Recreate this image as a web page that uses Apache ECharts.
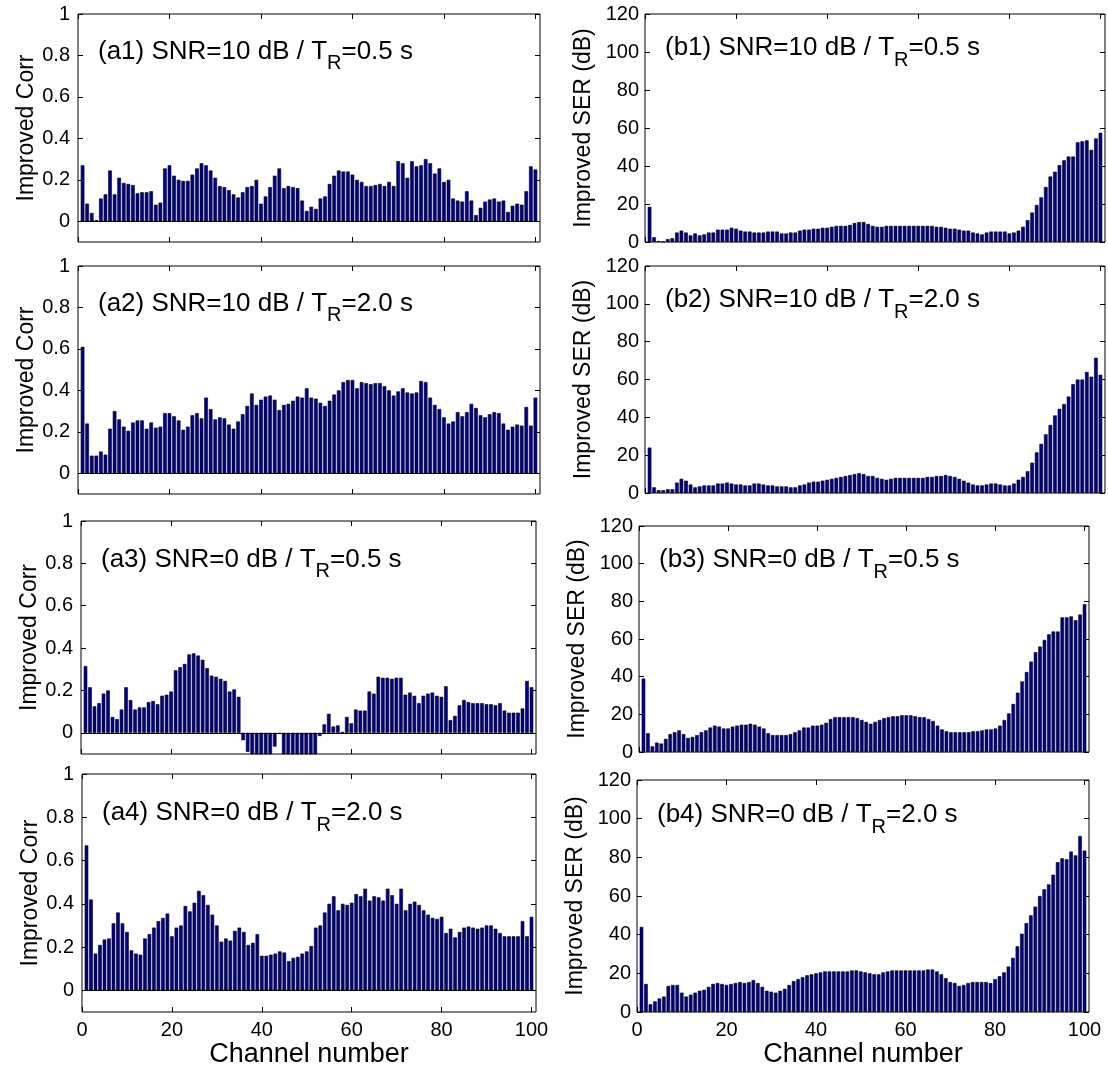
<!DOCTYPE html>
<html>
<head>
<meta charset="utf-8">
<script src="https://cdn.jsdelivr.net/npm/echarts@6/dist/echarts.min.js"></script>
<style>
  html, body { margin: 0; padding: 0; background: #fff; }
  #main { width: 1108px; height: 1070px; }
</style>
</head>
<body>
<div id="main"></div>
<script>
// channel numbers 1..100
const channels = [];
for (let i = 1; i <= 100; i++) channels.push(i);

const channelTicks = [0, 20, 40, 60, 80, 100];
const corrTicks = [0, 0.2, 0.4, 0.6, 0.8, 1];
const serTicks = [0, 20, 40, 60, 80, 100, 120];

// Improved Corr, left column
const corrA1 = [
  0.27, 0.085, 0.04, 0.005, 0.11, 0.13, 0.245, 0.13, 0.21, 0.185,
  0.18, 0.175, 0.135, 0.14, 0.14, 0.145, 0.08, 0.09, 0.255, 0.27,
  0.22, 0.20, 0.195, 0.195, 0.225, 0.255, 0.28, 0.27, 0.245, 0.21,
  0.17, 0.165, 0.15, 0.13, 0.115, 0.14, 0.165, 0.17, 0.20, 0.085,
  0.12, 0.165, 0.22, 0.255, 0.16, 0.17, 0.165, 0.16, 0.10, 0.05,
  0.07, 0.06, 0.11, 0.12, 0.18, 0.22, 0.245, 0.24, 0.24, 0.225,
  0.20, 0.19, 0.17, 0.17, 0.175, 0.18, 0.17, 0.19, 0.17, 0.29,
  0.28, 0.21, 0.29, 0.265, 0.27, 0.30, 0.28, 0.23, 0.255, 0.19,
  0.20, 0.11, 0.10, 0.095, 0.145, 0.10, 0.03, 0.065, 0.095, 0.105,
  0.11, 0.095, 0.10, 0.045, 0.075, 0.085, 0.08, 0.145, 0.265, 0.25
];
const corrA2 = [
  0.61, 0.24, 0.085, 0.085, 0.105, 0.09, 0.215, 0.30, 0.26, 0.225,
  0.205, 0.245, 0.255, 0.255, 0.215, 0.245, 0.22, 0.225, 0.29, 0.29,
  0.275, 0.255, 0.21, 0.225, 0.28, 0.29, 0.265, 0.365, 0.31, 0.26,
  0.27, 0.265, 0.235, 0.215, 0.25, 0.285, 0.325, 0.385, 0.33, 0.355,
  0.37, 0.375, 0.355, 0.305, 0.33, 0.335, 0.35, 0.37, 0.365, 0.41,
  0.365, 0.36, 0.34, 0.325, 0.35, 0.38, 0.40, 0.44, 0.45, 0.45,
  0.41, 0.44, 0.435, 0.43, 0.435, 0.435, 0.42, 0.40, 0.375, 0.395,
  0.41, 0.39, 0.385, 0.39, 0.445, 0.44, 0.365, 0.33, 0.31, 0.27,
  0.24, 0.25, 0.295, 0.275, 0.295, 0.335, 0.315, 0.28, 0.27, 0.285,
  0.295, 0.29, 0.24, 0.21, 0.225, 0.235, 0.23, 0.32, 0.23, 0.365
];
const corrA3 = [
  0.315, 0.215, 0.125, 0.14, 0.185, 0.20, 0.075, 0.065, 0.11, 0.215,
  0.155, 0.11, 0.12, 0.12, 0.145, 0.15, 0.135, 0.175, 0.18, 0.195,
  0.295, 0.31, 0.325, 0.37, 0.375, 0.365, 0.345, 0.305, 0.27, 0.265,
  0.255, 0.245, 0.195, 0.205, 0.17, -0.035, -0.09, -0.15, -0.15, -0.15,
  -0.15, -0.15, -0.065, -0.005, -0.15, -0.15, -0.15, -0.15, -0.15, -0.15,
  -0.15, -0.15, -0.015, 0.04, 0.09, 0.03, 0.035, 0.005, 0.075, 0.045,
  0.11, 0.105, 0.105, 0.195, 0.185, 0.265, 0.26, 0.26, 0.255, 0.26,
  0.26, 0.18, 0.19, 0.175, 0.14, 0.175, 0.185, 0.19, 0.175, 0.17,
  0.22, 0.06, 0.08, 0.13, 0.155, 0.145, 0.14, 0.14, 0.14, 0.135,
  0.135, 0.13, 0.14, 0.105, 0.095, 0.095, 0.095, 0.115, 0.245, 0.215
];
const corrA4 = [
  0.67, 0.42, 0.17, 0.21, 0.235, 0.24, 0.31, 0.36, 0.31, 0.27,
  0.185, 0.17, 0.165, 0.24, 0.26, 0.29, 0.32, 0.335, 0.355, 0.25,
  0.29, 0.30, 0.39, 0.365, 0.405, 0.46, 0.44, 0.395, 0.35, 0.30,
  0.225, 0.24, 0.23, 0.275, 0.29, 0.27, 0.21, 0.22, 0.26, 0.16,
  0.16, 0.165, 0.17, 0.18, 0.175, 0.135, 0.15, 0.155, 0.17, 0.18,
  0.205, 0.29, 0.30, 0.36, 0.40, 0.435, 0.37, 0.40, 0.395, 0.405,
  0.445, 0.435, 0.47, 0.415, 0.435, 0.43, 0.415, 0.47, 0.44, 0.40,
  0.47, 0.37, 0.40, 0.41, 0.395, 0.37, 0.35, 0.335, 0.33, 0.34,
  0.265, 0.285, 0.245, 0.27, 0.29, 0.295, 0.29, 0.285, 0.29, 0.30,
  0.30, 0.285, 0.265, 0.25, 0.25, 0.25, 0.25, 0.32, 0.25, 0.34
];

// Improved SER (dB), right column
const serB1 = [
  18.5, 2.5, 0.5, 0, 1.5, 2, 5, 6, 5, 3.5,
  4.5, 3.5, 4, 5, 5, 6.5, 6.5, 6.5, 7.5, 7,
  6, 5.5, 5.5, 5, 5, 5, 5.5, 5.5, 5.5, 4.5,
  4.5, 5, 5, 6, 6.5, 6.5, 7, 7, 7.5, 7.5,
  8, 8.5, 8.5, 8.5, 9, 10, 10.5, 10.5, 9.5, 8.5,
  8, 8, 8.5, 8.5, 8.5, 8.5, 8.5, 8.5, 8.5, 8.5,
  8.5, 8.5, 8.5, 8, 8, 7.5, 7, 7, 6.5, 6,
  6, 5, 4.5, 4, 5, 5.5, 5.5, 5.5, 5.5, 4.5,
  5, 6, 8, 11.5, 15.5, 19.5, 23.5, 29, 34.5, 37,
  40.5, 43, 45, 45, 52.5, 53, 53.5, 48.5, 54.5, 57.5
];
const serB2 = [
  24, 3, 1.5, 1.5, 2, 2, 5.5, 7.5, 6.5, 4.5,
  3, 3.5, 4, 4, 4, 5, 5, 5.5, 5, 4.5,
  4.5, 4, 4, 5, 5, 4.5, 4, 4, 3.5, 3.5,
  3.5, 3, 3, 4, 4.5, 5.5, 6, 6, 6.5, 7,
  7.5, 8, 8.5, 9, 9.5, 10, 10.5, 10, 9, 9,
  8, 7.5, 7, 7.5, 8, 8, 8, 8, 8, 8,
  8, 8.5, 8.5, 9, 9, 9.5, 9, 8.5, 7.5, 6.5,
  5.5, 4.5, 4, 4, 4.5, 5, 5, 4.5, 4, 4,
  5, 7, 8.5, 11.5, 16, 21.5, 26, 31, 36, 41,
  44.5, 47, 51, 57.5, 60, 60, 64, 61.5, 71.5, 62.5
];
const serB3 = [
  39, 10, 3, 5, 4.5, 7, 9.5, 10.5, 11.5, 9.5,
  7.5, 8, 9, 10.5, 11.5, 13, 14, 13.5, 12.5, 12.5,
  13.5, 14, 14.5, 14.5, 15, 14.5, 13.5, 12.5, 10, 9,
  9, 9, 9, 9.5, 10.5, 11.5, 13, 13, 14, 14,
  14.5, 15.5, 17.5, 18.5, 18.5, 18.5, 18.5, 18.5, 18, 17,
  16, 15, 16, 17, 18, 18.5, 19, 19, 19.5, 19.5,
  19.5, 19, 18.5, 18.5, 17.5, 16.5, 14, 12, 11, 10.5,
  10.5, 10.5, 10.5, 10.5, 11, 11, 11.5, 12, 12, 12.5,
  14, 17, 20.5, 25.5, 31.5, 37.5, 42.5, 48, 53, 56,
  59.5, 62.5, 64, 64, 71.5, 71.5, 72, 70, 73, 78.5
];
const serB4 = [
  44, 14.5, 4, 5.5, 7, 8, 13.5, 14, 14, 10,
  8, 9, 10, 11, 11.5, 13, 14.5, 15, 14.5, 14,
  14.5, 15, 15.5, 15, 15.5, 16.5, 15, 13, 11, 10.5,
  10, 11, 12, 14, 16, 17, 18, 19, 19.5, 20,
  20.5, 21, 21, 21, 21, 21, 21, 21.5, 21.5, 21,
  20.5, 20, 19.5, 19.5, 20.5, 21, 21.5, 21.5, 21.5, 21.5,
  21.5, 21.5, 21.5, 21.5, 22, 22, 21, 19.5, 17.5, 15.5,
  15, 13.5, 14, 15, 15.5, 15.5, 15.5, 15.5, 15, 17,
  18.5, 20.5, 23.5, 28, 34, 40.5, 46, 50, 54.5, 60,
  63.5, 66, 71, 77.5, 79.5, 79, 83, 81, 91, 83.5
];

const FONT = '"Liberation Sans", Arial, Helvetica, sans-serif';

const panels = [
  { tag: 'a1', values: corrA1, kind: 'corr', snr: '10', tr: '0.5', box: [78, 14, 462, 228] },
  { tag: 'a2', values: corrA2, kind: 'corr', snr: '10', tr: '2.0', box: [78, 266, 462, 228] },
  { tag: 'a3', values: corrA3, kind: 'corr', snr: '0', tr: '0.5', box: [81, 521, 455, 233] },
  { tag: 'a4', values: corrA4, kind: 'corr', snr: '0', tr: '2.0', box: [82, 774, 454, 238], bottom: true },
  { tag: 'b1', values: serB1, kind: 'ser', snr: '10', tr: '0.5', box: [645, 14, 460, 228] },
  { tag: 'b2', values: serB2, kind: 'ser', snr: '10', tr: '2.0', box: [645, 266, 460, 227] },
  { tag: 'b3', values: serB3, kind: 'ser', snr: '0', tr: '0.5', box: [639, 526, 450, 226] },
  { tag: 'b4', values: serB4, kind: 'ser', snr: '0', tr: '2.0', box: [637, 780, 452, 232], bottom: true }
];

const grids = [], xAxes = [], yAxes = [], series = [], graphics = [];
const tickLen = 5;
const black = { color: '#000', width: 1 };

panels.forEach((p, i) => {
  const [left, top, width, height] = p.box;
  const isCorr = p.kind === 'corr';
  const yMin = isCorr ? -0.1 : 0;
  const yMax = isCorr ? 1 : 120;
  const yTicks = isCorr ? corrTicks : serTicks;

  grids.push({ left, top, width, height, show: true, borderColor: '#000', borderWidth: 1, backgroundColor: 'transparent' });

  // bottom + top x axes (MATLAB box with inward ticks)
  xAxes.push({
    type: 'value', gridIndex: i, min: 0, max: 101, position: 'bottom',
    axisLine: { show: false, onZero: false }, splitLine: { show: false },
    axisTick: { show: true, inside: true, length: tickLen, customValues: channelTicks, lineStyle: black },
    axisLabel: { show: !!p.bottom, customValues: channelTicks, margin: 8, color: '#000', fontSize: 20, fontFamily: FONT },
    name: p.bottom ? 'Channel number' : '', nameLocation: 'middle', nameGap: 29,
    nameTextStyle: { color: '#000', fontSize: 27, fontFamily: FONT }
  });
  xAxes.push({
    type: 'value', gridIndex: i, min: 0, max: 101, position: 'top',
    axisLine: { show: false, onZero: false }, splitLine: { show: false },
    axisTick: { show: true, inside: true, length: tickLen, customValues: channelTicks, lineStyle: black },
    axisLabel: { show: false }
  });

  // left + right y axes
  yAxes.push({
    type: 'value', gridIndex: i, min: yMin, max: yMax, position: 'left',
    axisLine: { show: false, onZero: false }, splitLine: { show: false },
    axisTick: { show: true, inside: true, length: tickLen, customValues: yTicks, lineStyle: black },
    axisLabel: { customValues: yTicks, margin: isCorr ? 8 : 6, color: '#000', fontSize: 20, fontFamily: FONT },
    name: isCorr ? 'Improved Corr' : 'Improved SER (dB)', nameLocation: 'middle', nameRotate: 90,
    nameGap: isCorr ? 37 : 50,
    nameTextStyle: { color: '#000', fontSize: 23, fontFamily: FONT }
  });
  yAxes.push({
    type: 'value', gridIndex: i, min: yMin, max: yMax, position: 'right',
    axisLine: { show: false, onZero: false }, splitLine: { show: false },
    axisTick: { show: true, inside: true, length: tickLen, customValues: yTicks, lineStyle: black },
    axisLabel: { show: false }
  });

  series.push({
    type: 'bar',
    xAxisIndex: 2 * i, yAxisIndex: 2 * i,
    data: p.values.map((v, k) => [channels[k], v]),
    barWidth: width / 101 * 0.8,
    clip: true,
    itemStyle: { color: '#00008f', borderColor: '#000', borderWidth: 0.6 },
    markLine: isCorr ? {
      silent: true, symbol: 'none', animation: false,
      label: { show: false },
      lineStyle: { color: '#000', type: 'solid', width: 1 },
      data: [{ yAxis: 0 }]
    } : undefined
  });

  // panel label, sitting just above the 0.8 / 100 tick level like the original
  const labelVal = isCorr ? 0.8 : 100;
  const labelY = top + (yMax - labelVal) / (yMax - yMin) * height - 4;
  graphics.push({
    type: 'text', x: left + 20, y: labelY, z: 10,
    style: {
      text: '{m|(' + p.tag + ') SNR=' + p.snr + ' dB / T}{s|R}{m|=' + p.tr + ' s}',
      verticalAlign: 'middle', align: 'left',
      rich: {
        m: { fontSize: 26, fontFamily: FONT, fill: '#000' },
        s: { fontSize: 20, fontFamily: FONT, fill: '#000', padding: [25, 0, 0, 0] }
      }
    }
  });
});

const chart = echarts.init(document.getElementById('main'), null, { renderer: 'canvas' });
chart.setOption({
  animation: false,
  backgroundColor: '#fff',
  grid: grids,
  xAxis: xAxes,
  yAxis: yAxes,
  series: series,
  graphic: graphics
});
</script>
</body>
</html>
